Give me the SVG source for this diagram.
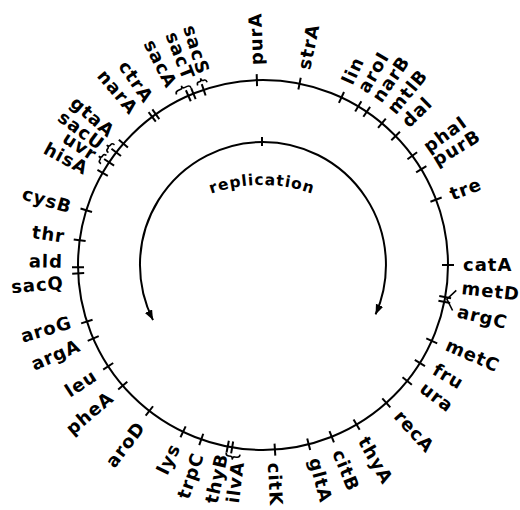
<svg xmlns="http://www.w3.org/2000/svg" xmlns:xlink="http://www.w3.org/1999/xlink" width="520" height="510" viewBox="0 0 520 510">
<style>
.ln{fill:none;stroke:#000;stroke-width:2}
.tk{stroke:#000;stroke-width:2}
.br{fill:none;stroke:#000;stroke-width:1.6}
text{font-family:"DejaVu Sans",sans-serif;font-weight:bold;fill:#000}
.g{font-size:18px;letter-spacing:1px}
.o{text-anchor:start}
.i{text-anchor:end}
.rep{font-size:15.5px;letter-spacing:0.9px}
</style>
<defs>
<line id="tick" class="tk" x1="263" y1="74" x2="263" y2="86"/>
<marker id="ah" markerUnits="userSpaceOnUse" markerWidth="12" markerHeight="10" refX="10" refY="4" orient="auto">
<path d="M0,0 L10,4 L0,8 Z" fill="#000"/>
</marker>
<path id="rp" d="M112,335 A150,150 0 0 1 412,335"/>
</defs>
<rect width="520" height="510" fill="#fff"/>
<g id="connectors">
<circle class="ln" cx="263" cy="265" r="185"/>
<path class="ln" d="M263,142 A123,123 0 0 1 375.6,314.4" marker-end="url(#ah)"/>
<path class="ln" d="M263,142 A123,123 0 0 0 153,320.1" marker-end="url(#ah)"/>
<line class="tk" x1="262" y1="137" x2="262" y2="146"/>
<text class="rep"><textPath xlink:href="#rp" href="#rp" startOffset="50%" text-anchor="middle">replication</textPath></text>
<g id="braces">
<path class="br" transform="rotate(335.5 263 265) translate(263 74)" d="M-8,0 Q-8,-3 -5,-3 L-2,-3 Q0,-3 0,-6 Q0,-3 2,-3 L5,-3 Q8,-3 8,0"/>
<path class="br" transform="rotate(341.5 263 265) translate(263 74)" d="M-5,0 Q-5,-3 -3,-3 L-2,-3 Q0,-3 0,-6 Q0,-3 2,-3 L3,-3 Q5,-3 5,0"/>
<path class="br" transform="rotate(303.5 263 265) translate(263 74)" d="M-5,0 Q-5,-3 -3,-3 L-2,-3 Q0,-3 0,-6 Q0,-3 2,-3 L3,-3 Q5,-3 5,0"/>
<path class="br" transform="rotate(307.5 263 265) translate(263 74)" d="M-5,0 Q-5,-3 -3,-3 L-2,-3 Q0,-3 0,-6 Q0,-3 2,-3 L3,-3 Q5,-3 5,0"/>
<path class="br" transform="rotate(189 263 265) translate(263 74)" d="M-7,0 Q-7,-3 -4,-3 L-2,-3 Q0,-3 0,-6 Q0,-3 2,-3 L4,-3 Q7,-3 7,0"/>
<path class="br" transform="rotate(100.5 263 265)" d="M252.8,70.3 L263,78 L273.2,70.3"/>
</g>
</g>
<g id="ticks">
<use href="#tick" transform="rotate(358.1 263 265)"/>
<use href="#tick" transform="rotate(11.4 263 265)"/>
<use href="#tick" transform="rotate(25.1 263 265)"/>
<use href="#tick" transform="rotate(31 263 265)"/>
<use href="#tick" transform="rotate(34.1 263 265)"/>
<use href="#tick" transform="rotate(40 263 265)"/>
<use href="#tick" transform="rotate(45.8 263 265)"/>
<use href="#tick" transform="rotate(53.8 263 265)"/>
<use href="#tick" transform="rotate(58.8 263 265)"/>
<use href="#tick" transform="rotate(69.3 263 265)"/>
<use href="#tick" transform="rotate(90 263 265)"/>
<use href="#tick" transform="rotate(100 263 265)"/>
<use href="#tick" transform="rotate(101.5 263 265)"/>
<use href="#tick" transform="rotate(114.2 263 265)"/>
<use href="#tick" transform="rotate(122 263 265)"/>
<use href="#tick" transform="rotate(128.8 263 265)"/>
<use href="#tick" transform="rotate(138.2 263 265)"/>
<use href="#tick" transform="rotate(149.6 263 265)"/>
<use href="#tick" transform="rotate(158.2 263 265)"/>
<use href="#tick" transform="rotate(165.7 263 265)"/>
<use href="#tick" transform="rotate(176.3 263 265)"/>
<use href="#tick" transform="rotate(189.6 263 265)"/>
<use href="#tick" transform="rotate(191 263 265)"/>
<use href="#tick" transform="rotate(199.5 263 265)"/>
<use href="#tick" transform="rotate(205.6 263 265)"/>
<use href="#tick" transform="rotate(217.9 263 265)"/>
<use href="#tick" transform="rotate(229.3 263 265)"/>
<use href="#tick" transform="rotate(236.8 263 265)"/>
<use href="#tick" transform="rotate(246.6 263 265)"/>
<use href="#tick" transform="rotate(252.2 263 265)"/>
<use href="#tick" transform="rotate(267.4 263 265)"/>
<use href="#tick" transform="rotate(269.3 263 265)"/>
<use href="#tick" transform="rotate(277.7 263 265)"/>
<use href="#tick" transform="rotate(287.2 263 265)"/>
<use href="#tick" transform="rotate(299.9 263 265)"/>
<use href="#tick" transform="rotate(303.7 263 265)"/>
<use href="#tick" transform="rotate(307.5 263 265)"/>
<use href="#tick" transform="rotate(311 263 265)"/>
<use href="#tick" transform="rotate(323.2 263 265)"/>
<use href="#tick" transform="rotate(324.6 263 265)"/>
<use href="#tick" transform="rotate(336.2 263 265)"/>
<use href="#tick" transform="rotate(337.9 263 265)"/>
<use href="#tick" transform="rotate(341.3 263 265)"/>
</g>
<g id="purA"><text class="g o" dy="0.35em" transform="translate(263 265) rotate(-91.8) translate(200 0)">purA</text></g>
<g id="strA"><text class="g o" dy="0.35em" transform="translate(263 265) rotate(-78.2) translate(200 0)">strA</text></g>
<g id="lin"><text class="g o" dy="0.35em" transform="translate(263 265) rotate(-65.2) translate(200 0)">lin</text></g>
<g id="aroI"><text class="g o" dy="0.35em" transform="translate(263 265) rotate(-60.2) translate(200 0)">aroI</text></g>
<g id="narB"><text class="g o" dy="0.35em" transform="translate(263 265) rotate(-55.5) translate(200 0)">narB</text></g>
<g id="mtlB"><text class="g o" dy="0.35em" transform="translate(263 265) rotate(-50.2) translate(200 0)">mtlB</text></g>
<g id="dal"><text class="g o" dy="0.35em" transform="translate(263 265) rotate(-44.8) translate(200 0)">dal</text></g>
<g id="phaI"><text class="g o" dy="0.35em" transform="translate(263 265) rotate(-35.7) translate(200 0)">phaI</text></g>
<g id="purB"><text class="g o" dy="0.35em" transform="translate(263 265) rotate(-31.2) translate(200 0)">purB</text></g>
<g id="tre"><text class="g o" dy="0.35em" transform="translate(263 265) rotate(-20.6) translate(200 0)">tre</text></g>
<g id="catA"><text class="g o" dy="0.35em" transform="translate(263 265) rotate(0) translate(200 0)">catA</text></g>
<g id="metD"><text class="g o" dy="0.35em" transform="translate(263 265) rotate(6.5) translate(200 0)">metD</text></g>
<g id="argC"><text class="g o" dy="0.35em" transform="translate(263 265) rotate(13.3) translate(200 0)">argC</text></g>
<g id="metC"><text class="g o" dy="0.35em" transform="translate(263 265) rotate(23.3) translate(200 0)">metC</text></g>
<g id="fru"><text class="g o" dy="0.35em" transform="translate(263 265) rotate(31) translate(200 0)">fru</text></g>
<g id="ura"><text class="g o" dy="0.35em" transform="translate(263 265) rotate(37.2) translate(200 0)">ura</text></g>
<g id="recA"><text class="g o" dy="0.35em" transform="translate(263 265) rotate(47.7) translate(200 0)">recA</text></g>
<g id="thyA"><text class="g o" dy="0.35em" transform="translate(263 265) rotate(60) translate(200 0)">thyA</text></g>
<g id="citB"><text class="g o" dy="0.35em" transform="translate(263 265) rotate(68) translate(200 0)">citB</text></g>
<g id="gltA"><text class="g o" dy="0.35em" transform="translate(263 265) rotate(75) translate(200 0)">gltA</text></g>
<g id="citK"><text class="g o" dy="0.35em" transform="translate(263 265) rotate(86.8) translate(198 0)">citK</text></g>
<g id="ilvA"><text class="g i" dy="0.35em" transform="translate(263 265) rotate(277.3) translate(-198 0)">ilvA</text></g>
<g id="thyB"><text class="g i" dy="0.35em" transform="translate(263 265) rotate(282.3) translate(-193 0)">thyB</text></g>
<g id="trpC"><text class="g i" dy="0.35em" transform="translate(263 265) rotate(289) translate(-199 0)">trpC</text></g>
<g id="lys"><text class="g i" dy="0.35em" transform="translate(263 265) rotate(296) translate(-200 0)">lys</text></g>
<g id="aroD"><text class="g i" dy="0.35em" transform="translate(263 265) rotate(307.5) translate(-200 0)">aroD</text></g>
<g id="pheA"><text class="g i" dy="0.35em" transform="translate(263 265) rotate(319.5) translate(-200 0)">pheA</text></g>
<g id="leu"><text class="g i" dy="0.35em" transform="translate(263 265) rotate(327) translate(-200 0)">leu</text></g>
<g id="argA"><text class="g i" dy="0.35em" transform="translate(263 265) rotate(336.6) translate(-200 0)">argA</text></g>
<g id="aroG"><text class="g i" dy="0.35em" transform="translate(263 265) rotate(343.5) translate(-200 0)">aroG</text></g>
<g id="sacQ"><text class="g i" dy="0.35em" transform="translate(263 265) rotate(355) translate(-200 0)">sacQ</text></g>
<g id="ald"><text class="g i" dy="0.35em" transform="translate(263 265) rotate(1) translate(-200 0)">ald</text></g>
<g id="thr"><text class="g i" dy="0.35em" transform="translate(263 265) rotate(8.2) translate(-200 0)">thr</text></g>
<g id="cysB"><text class="g i" dy="0.35em" transform="translate(263 265) rotate(16.7) translate(-200 0)">cysB</text></g>
<g id="hisA"><text class="g i" dy="0.35em" transform="translate(263 265) rotate(28.4) translate(-200 0)">hisA</text></g>
<g id="uvr"><text class="g i" dy="0.35em" transform="translate(263 265) rotate(33) translate(-200 0)">uvr</text></g>
<g id="sacU"><text class="g i" dy="0.35em" transform="translate(263 265) rotate(36.5) translate(-200 0)">sacU</text></g>
<g id="gtaA"><text class="g i" dy="0.35em" transform="translate(263 265) rotate(41) translate(-200 0)">gtaA</text></g>
<g id="narA"><text class="g i" dy="0.35em" transform="translate(263 265) rotate(50) translate(-200 0)">narA</text></g>
<g id="ctrA"><text class="g i" dy="0.35em" transform="translate(263 265) rotate(55.3) translate(-200 0)">ctrA</text></g>
<g id="sacA"><text class="g i" dy="0.35em" transform="translate(263 265) rotate(63) translate(-200 0)">sacA</text></g>
<g id="sacT"><text class="g i" dy="0.35em" transform="translate(263 265) rotate(68.4) translate(-200 0)">sacT</text></g>
<g id="sacS"><text class="g i" dy="0.35em" transform="translate(263 265) rotate(72.8) translate(-200 0)">sacS</text></g>
</svg>
